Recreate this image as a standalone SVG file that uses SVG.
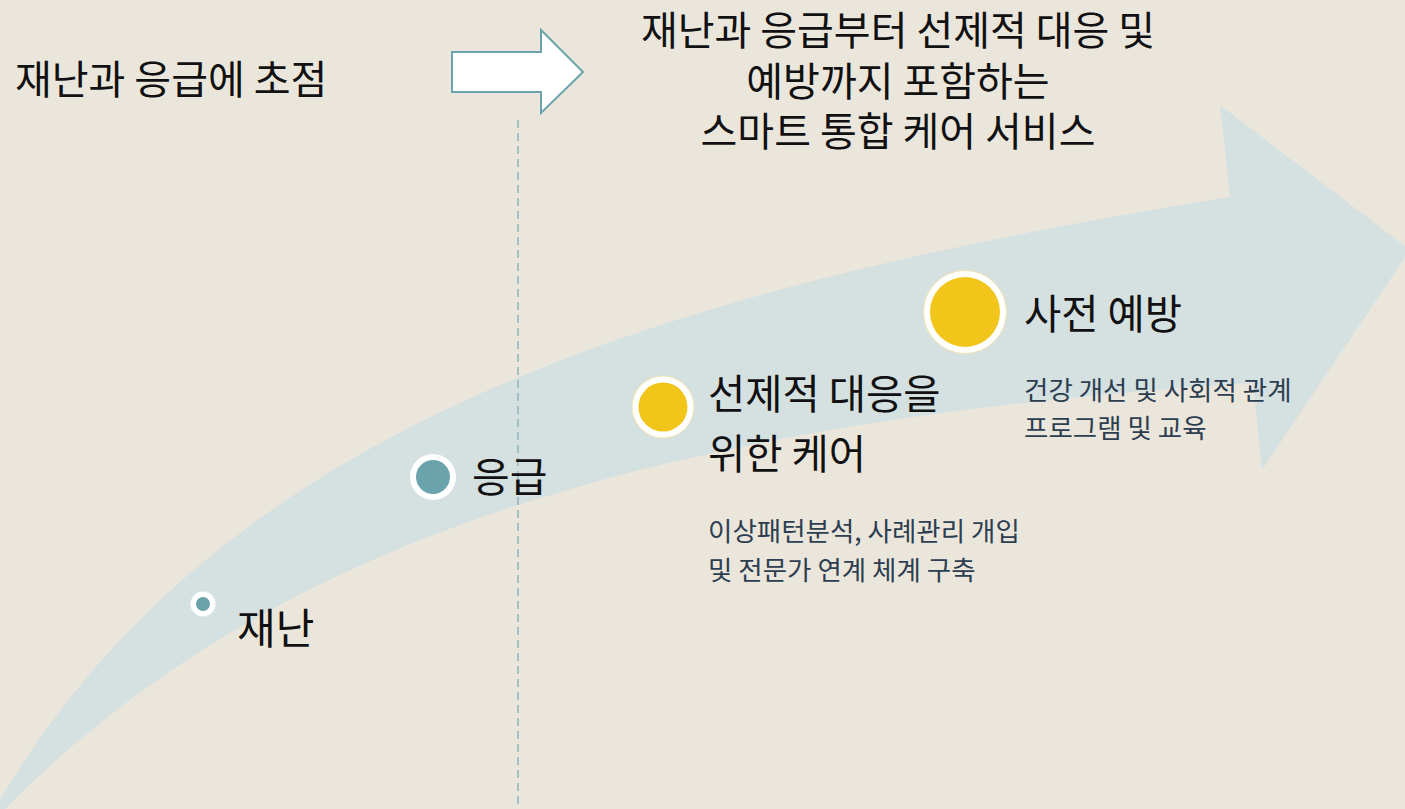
<svg xmlns="http://www.w3.org/2000/svg" width="1405" height="809" viewBox="0 0 1405 809">
<style>
.big{font-family:"Noto Sans CJK KR","Noto Sans",sans-serif;fill:#111;}
.small{font-family:"Noto Sans CJK KR","Noto Sans",sans-serif;fill:#2d3e50;font-size:26.5px;}
.ring{fill:#fff;stroke:#f3e6b0;stroke-width:1;}
.teal{fill:#6aa3ab;}
.yellow{fill:#f2c51a;}
</style>
<rect width="1405" height="809" fill="#ebe6dc"/>
<g id="band">
<path d="M 0 800 C 220 428, 650 290, 1230 197 L 1220 105 L 1410 250 L 1262 470 L 1253 383 C 680 420, 280 530, 5 809 L -5 815 Z" fill="#d5e0e1"/>
</g>
<g id="connectors">
<line x1="518" y1="120" x2="518" y2="809" stroke="#8fb5bb" stroke-width="1.5" stroke-dasharray="8 5"/>
<path d="M 452 52 L 541 52 L 541 30 L 583 72 L 541 113 L 541 92 L 452 92 Z" fill="#fff" stroke="#6aa3ab" stroke-width="2"/>
</g>
<g id="label-left">
<text class="big" x="15" y="94" font-size="40">재난과 응급에 초점</text>
</g>
<g id="label-title">
<text class="big" font-size="40" text-anchor="middle"><tspan x="898" y="45">재난과 응급부터 선제적 대응 및</tspan><tspan x="898" y="96">예방까지 포함하는</tspan><tspan x="898" y="146">스마트 통합 케어 서비스</tspan></text>
</g>
<g id="node-disaster">
<circle cx="203" cy="604" r="12.5" fill="#fff"/>
<circle class="teal" cx="203" cy="604" r="7"/>
<text class="big" x="237" y="644" font-size="42">재난</text>
</g>
<g id="node-emergency">
<circle cx="433" cy="477" r="23" fill="#fff"/>
<circle class="teal" cx="433" cy="477" r="17"/>
<text class="big" x="472" y="492" font-size="41">응급</text>
</g>
<g id="node-proactive">
<circle class="ring" cx="663" cy="407" r="31"/>
<circle class="yellow" cx="663" cy="407" r="24.5"/>
<text class="big" font-size="40.5"><tspan x="708" y="409">선제적 대응을</tspan><tspan x="708" y="469">위한 케어</tspan></text>
<text class="small"><tspan x="708" y="541">이상패턴분석, 사례관리 개입</tspan><tspan x="708" y="580">및 전문가 연계 체계 구축</tspan></text>
</g>
<g id="node-prevention">
<circle class="ring" cx="965" cy="312" r="41.5"/>
<circle class="yellow" cx="965" cy="312" r="35"/>
<text class="big" x="1024" y="329" font-size="40.5">사전 예방</text>
<text class="small"><tspan x="1024" y="400">건강 개선 및 사회적 관계</tspan><tspan x="1024" y="438">프로그램 및 교육</tspan></text>
</g>
</svg>
